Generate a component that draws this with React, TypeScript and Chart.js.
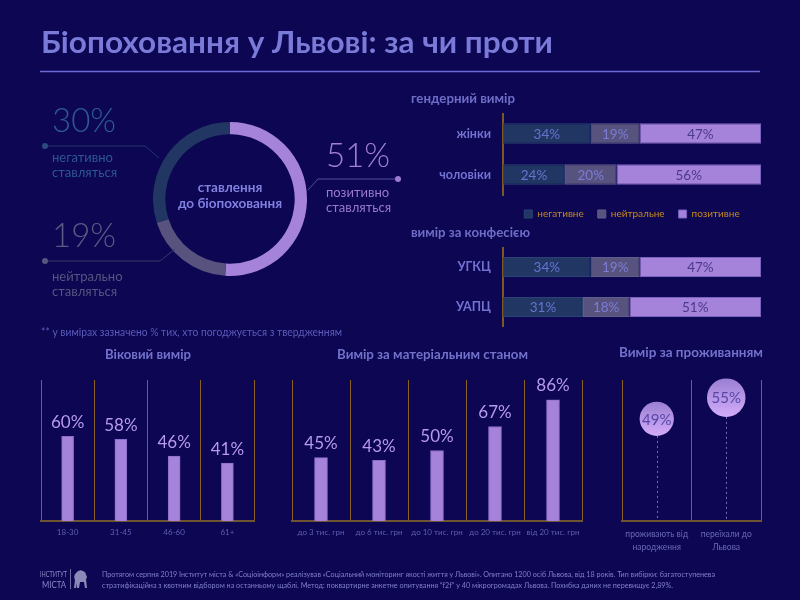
import React, { useEffect, useRef } from "react";
import { Chart, registerables } from "chart.js";

Chart.register(...registerables);

// ---- data ----
const attitudeNames = ["позитивно", "нейтрально", "негативно"];
const attitudeValues = [51, 19, 30];

const segmentNames = ["негативне", "нейтральне", "позитивне"];

const genderCategories = ["жінки", "чоловіки"];
const genderNegative = [34, 24];
const genderNeutral = [19, 20];
const genderPositive = [47, 56];

const confessionCategories = ["УГКЦ", "УАПЦ"];
const confessionNegative = [34, 31];
const confessionNeutral = [19, 18];
const confessionPositive = [47, 51];

const ageCategories = ["18-30", "31-45", "46-60", "61+"];
const ageValues = [60, 58, 46, 41];

const incomeCategories = ["до 3 тис. грн", "до 6 тис. грн", "до 10 тис. грн", "до 20 тис. грн", "від 20 тис. грн"];
const incomeValues = [45, 43, 50, 67, 86];

const residenceCategories = [["проживають від", "народження"], ["переїхали до", "Львова"]];
const residenceValues = [49, 55];

// ---- palette ----
const BG = "#0d0652";
const FONT = "Lato, 'Open Sans', sans-serif";
const NEG = "#213663";
const NEU = "#57537e";
const POS = "#a683da";
const GRID = "#8a6322";
const AXIS = "#6e5430";

// keep the plot area exactly where the axes are placed
const noScalePadding = (s: any) => {
  s.paddingTop = 0;
  s.paddingBottom = 0;
  s.paddingLeft = 0;
  s.paddingRight = 0;
};

// value labels centred inside stacked segments
const stackLabels = {
  id: "stackLabels",
  afterDatasetsDraw(chart: any, _args: any, opts: any) {
    const { ctx } = chart;
    ctx.save();
    ctx.font = `13.5px ${FONT}`;
    ctx.textAlign = "center";
    ctx.textBaseline = "middle";
    chart.data.datasets.forEach((ds: any, di: number) => {
      const meta = chart.getDatasetMeta(di);
      ctx.fillStyle = opts.colors[di];
      meta.data.forEach((el: any, i: number) => {
        const p = el.getCenterPoint();
        ctx.fillText(`${ds.data[i]}%`, p.x, p.y + 1);
      });
    });
    ctx.restore();
  },
};

// value labels above columns
const columnLabels = {
  id: "columnLabels",
  afterDatasetsDraw(chart: any) {
    const { ctx } = chart;
    const meta = chart.getDatasetMeta(0);
    const data = chart.data.datasets[0].data;
    ctx.save();
    ctx.font = `17px ${FONT}`;
    ctx.fillStyle = "#b799ee";
    ctx.textAlign = "center";
    ctx.textBaseline = "middle";
    meta.data.forEach((el: any, i: number) => {
      ctx.fillText(`${data[i]}%`, el.x, el.y - 14);
    });
    ctx.restore();
  },
};

// dotted stems under the bubbles and the values inside them
const bubbleStems = {
  id: "bubbleStems",
  beforeDatasetsDraw(chart: any) {
    const { ctx, chartArea } = chart;
    const meta = chart.getDatasetMeta(0);
    ctx.save();
    ctx.strokeStyle = "#7f68bf";
    ctx.lineWidth = 1;
    ctx.setLineDash([2, 3]);
    meta.data.forEach((el: any) => {
      const r = el.options.radius;
      ctx.beginPath();
      ctx.moveTo(Math.round(el.x) + 0.5, el.y + r);
      ctx.lineTo(Math.round(el.x) + 0.5, chartArea.bottom);
      ctx.stroke();
    });
    ctx.restore();
  },
  afterDatasetsDraw(chart: any) {
    const { ctx } = chart;
    const meta = chart.getDatasetMeta(0);
    const data = chart.data.datasets[0].data;
    ctx.save();
    ctx.font = `15px ${FONT}`;
    ctx.fillStyle = "#5846a6";
    ctx.textAlign = "center";
    ctx.textBaseline = "middle";
    meta.data.forEach((el: any, i: number) => {
      ctx.fillText(`${data[i]}%`, el.x, el.y + 1);
    });
    ctx.restore();
  },
};

function stackedConfig(categories: string[], neg: number[], neu: number[], pos: number[], withLegend: boolean): any {
  return {
    type: "bar",
    data: {
      labels: categories,
      datasets: [
        { label: segmentNames[0], data: neg, backgroundColor: NEG, borderColor: "#2a4274", borderWidth: 1, borderSkipped: false },
        { label: segmentNames[1], data: neu, backgroundColor: NEU, borderColor: "#625e8c", borderWidth: 1, borderSkipped: false },
        { label: segmentNames[2], data: pos, backgroundColor: POS, borderColor: "#7a62c0", borderWidth: 1, borderSkipped: false },
      ],
    },
    options: {
      indexAxis: "y",
      responsive: false,
      animation: false,
      events: [],
      layout: { padding: { left: 0, right: 2, top: 0, bottom: 0 } },
      datasets: { bar: { categoryPercentage: 1, barPercentage: 0.5 } },
      scales: {
        x: { stacked: true, min: 0, max: 100, display: false },
        y: {
          stacked: true,
          grid: { display: false, drawTicks: false },
          border: { display: true, color: "#7a5a22", width: 2 },
          ticks: { padding: 12, color: "#7272d2", font: { family: FONT, size: 12.5, weight: "bold" } },
          afterFit: (s: any) => {
            s.width = 103;
            noScalePadding(s);
          },
        },
      },
      plugins: {
        legend: {
          display: withLegend,
          position: "bottom",
          fullSize: false,
          labels: {
            boxWidth: 8,
            boxHeight: 8,
            padding: 14,
            color: "#c48a1f",
            font: { family: FONT, size: 10 },
          },
        },
        tooltip: { enabled: false },
        stackLabels: { colors: ["#6773d2", "#7c7cd8", "#4a3a8e"] },
      },
    },
    plugins: [stackLabels],
  };
}

function columnConfig(categories: string[], values: number[], barWidth: number): any {
  return {
    type: "bar",
    data: {
      labels: categories,
      datasets: [{ data: values, backgroundColor: POS, borderColor: "#8a6dcc", borderWidth: 1, barThickness: barWidth }],
    },
    options: {
      responsive: false,
      animation: false,
      events: [],
      layout: { padding: { top: 12, left: 2, right: 2, bottom: 0 } },
      scales: {
        x: {
          grid: { color: GRID, offset: true, drawTicks: false, lineWidth: 1 },
          border: { color: AXIS, width: 2 },
          ticks: { padding: 7, color: "#5f5fb3", font: { family: FONT, size: 8 }, maxRotation: 0, minRotation: 0, autoSkip: false },
          afterFit: (s: any) => {
            s.height = 24;
            noScalePadding(s);
          },
        },
        y: { display: false, min: 0, max: 100 },
      },
      plugins: { legend: { display: false }, tooltip: { enabled: false } },
    },
    plugins: [columnLabels],
  };
}

function residenceConfig(): any {
  const radiusOf = (v: number) => v * 0.35;
  return {
    type: "line",
    data: {
      labels: residenceCategories,
      datasets: [
        {
          data: residenceValues,
          showLine: false,
          clip: false,
          pointRadius: (c: any) => radiusOf(c.raw),
          pointBorderWidth: 0,
          pointBackgroundColor: (c: any) => {
            const chart = c.chart;
            if (!chart.chartArea || c.raw === undefined) return "#b08ee4";
            const y = chart.scales.y.getPixelForValue(c.raw);
            const r = radiusOf(c.raw);
            const g = chart.ctx.createLinearGradient(0, y - r, 0, y + r);
            g.addColorStop(0, "#9a7fd2");
            g.addColorStop(1, "#d3acfa");
            return g;
          },
        },
      ],
    },
    options: {
      responsive: false,
      animation: false,
      events: [],
      layout: { autoPadding: false, padding: { top: 12, left: 2, right: 2, bottom: 0 } },
      scales: {
        x: {
          offset: true,
          grid: { color: GRID, offset: true, drawTicks: false },
          border: { color: AXIS, width: 2 },
          ticks: { padding: 7, color: "#6a6ab9", font: { family: FONT, size: 8.5, lineHeight: 1.5 }, maxRotation: 0, minRotation: 0, autoSkip: false },
          afterFit: (s: any) => {
            s.height = 34;
            noScalePadding(s);
          },
        },
        y: { display: false, min: 20, max: 60 },
      },
      plugins: { legend: { display: false }, tooltip: { enabled: false } },
    },
    plugins: [bubbleStems],
  };
}

function donutConfig(): any {
  return {
    type: "doughnut",
    data: {
      labels: attitudeNames,
      datasets: [{ data: attitudeValues, backgroundColor: [POS, NEU, NEG], borderWidth: 0 }],
    },
    options: {
      responsive: false,
      animation: false,
      events: [],
      cutout: "84%",
      layout: { padding: 0 },
      plugins: { legend: { display: false }, tooltip: { enabled: false } },
    },
  };
}

function ChartBox(props: { left: number; top: number; width: number; height: number; build: () => any }) {
  const ref = useRef<HTMLCanvasElement>(null);
  useEffect(() => {
    const chart = new Chart(ref.current as HTMLCanvasElement, props.build());
    return () => chart.destroy();
  }, []);
  return (
    <canvas
      ref={ref}
      width={props.width}
      height={props.height}
      style={{ position: "absolute", left: props.left, top: props.top, width: props.width, height: props.height }}
    />
  );
}

function Lion() {
  return (
    <g fill="#8a8ab8">
      <path d="M74 588 L75 580 Q73 576 76 573 Q79 569 83 571 Q86 572 86 575 Q88 577 86 579 L87 588 L85 588 L84 582 L80 582 L79 588 L77 588 L77 583 L76 588 Z" />
    </g>
  );
}

export default function App() {
  const svgText = (x: number, y: number, s: string, size: number, fill: string, weight: any = "normal", len?: number, anchor: any = "start") => (
    <text
      x={x}
      y={y}
      fontSize={size}
      fontWeight={weight}
      fill={fill}
      textAnchor={anchor}
      fontFamily={FONT}
      {...(len ? { textLength: len, lengthAdjust: "spacingAndGlyphs" } : {})}
    >
      {s}
    </text>
  );

  return (
    <div style={{ position: "absolute", left: 0, top: 0, width: 800, height: 600, background: BG, overflow: "hidden", fontFamily: FONT }}>
      <ChartBox left={153} top={122} width={154} height={154} build={donutConfig} />
      <ChartBox left={400} top={113} width={363} height={116} build={() => stackedConfig(genderCategories, genderNegative, genderNeutral, genderPositive, true)} />
      <ChartBox left={400} top={247} width={363} height={80} build={() => stackedConfig(confessionCategories, confessionNegative, confessionNeutral, confessionPositive, false)} />
      <ChartBox left={39} top={368} width={217} height={177} build={() => columnConfig(ageCategories, ageValues, 12)} />
      <ChartBox left={290} top={368} width={294} height={177} build={() => columnConfig(incomeCategories, incomeValues, 13)} />
      <ChartBox left={620} top={368} width={143} height={187} build={residenceConfig} />

      <svg width={800} height={600} style={{ position: "absolute", left: 0, top: 0, pointerEvents: "none" }}>
        {svgText(41, 53, "Біопоховання у Львові: за чи проти", 30, "#7a7ad8", "bold", 512)}
        <line x1={40} y1={71.5} x2={760} y2={71.5} stroke="#6a6ad8" strokeWidth={1.3} />

        {/* donut call-outs */}
        <path d="M45 146 H145 L159 158" stroke="#22366a" strokeWidth={1} fill="none" />
        <circle cx={45} cy={146} r={3} fill="#2b4a80" />
        {svgText(52, 132, "30%", 33, "#2e5b98", 300)}
        {svgText(52, 162, "негативно", 13, "#2c5890")}
        {svgText(52, 177, "ставляться", 13, "#2c5890")}

        <path d="M45 261 H160 L175 249" stroke="#3a3868" strokeWidth={1} fill="none" />
        <circle cx={45} cy={261} r={3} fill="#55557f" />
        {svgText(52, 247, "19%", 33, "#5a5a84", 300)}
        {svgText(52, 281, "нейтрально", 13, "#55557f")}
        {svgText(52, 296, "ставляться", 13, "#55557f")}

        <path d="M398 179 H318 L308 190" stroke="#5c4ca0" strokeWidth={1} fill="none" />
        <circle cx={398} cy={179} r={3} fill="#9a7ad2" />
        {svgText(326, 167, "51%", 33, "#a07fd6", 300)}
        {svgText(326, 197, "позитивно", 13, "#9a7ad0")}
        {svgText(326, 212, "ставляться", 13, "#9a7ad0")}

        {svgText(230, 191.5, "ставлення", 13.5, "#8181e2", "bold", undefined, "middle")}
        {svgText(230, 207.5, "до біопоховання", 13.5, "#8181e2", "bold", undefined, "middle")}

        {svgText(41, 336, "** у вимірах зазначено % тих, хто погоджується з твердженням", 10.5, "#5b5bbb", "normal", 301)}

        {/* section headings */}
        {svgText(411, 103, "гендерний вимір", 13.5, "#6e6ec9", "bold", 104)}
        {svgText(411, 237, "вимір за конфесією", 13.5, "#6e6ec9", "bold", 119)}
        {svgText(148, 359, "Віковий вимір", 14, "#7272cc", "bold", 86, "middle")}
        {svgText(432.5, 359, "Вимір за матеріальним станом", 14, "#7272cc", "bold", 191, "middle")}
        {svgText(691, 357, "Вимір за проживанням", 14, "#7272cc", "bold", 144, "middle")}

        {/* footer */}
        {svgText(40, 577, "ІНСТИТУТ", 8, "#8a8ac8", "normal", 27)}
        {svgText(42, 587.5, "МІСТА", 10, "#8a8ac8", "normal", 24)}
        <line x1={70.5} y1={569} x2={70.5} y2={589} stroke="#6a6aa0" strokeWidth={1} />
        <Lion />
        {svgText(102, 577, "Протягом серпня 2019 Інститут міста & «Соціоінформ» реалізував «Соціальний моніторинг якості життя у Львові». Опитано 1200 осіб Львова, від 18 років. Тип вибірки: багатоступенева", 7.5, "#8080c8", "normal", 613)}
        {svgText(102, 588, "стратифікаційна з квотним відбором на останньому щаблі. Метод: поквартирне анкетне опитування “f2f” у 40 мікрогромадах Львова. Похибка даних не перевищує 2,89%.", 7.5, "#8080c8", "normal", 571)}
      </svg>
    </div>
  );
}
